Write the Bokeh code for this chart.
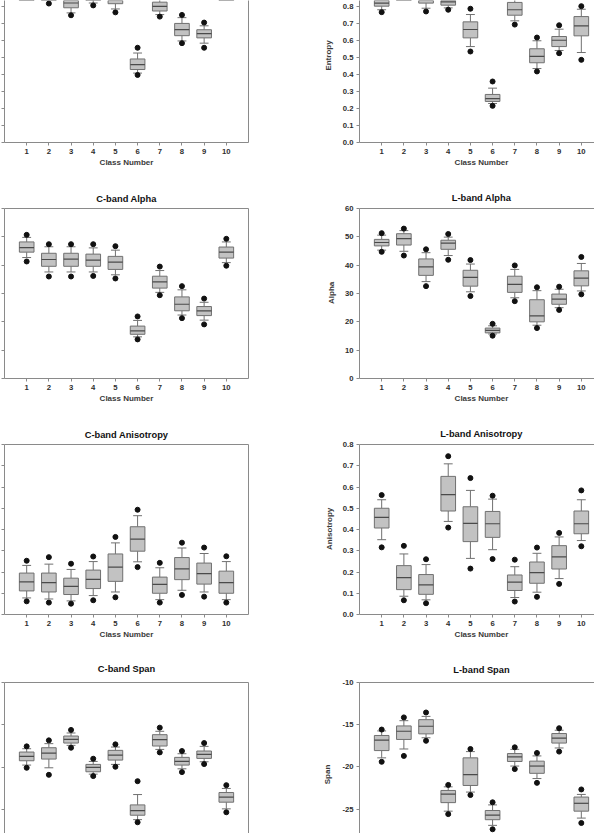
from bokeh.plotting import figure
from bokeh.models import (Range1d, FixedTicker, LinearAxis, Title, PrintfTickFormatter,
                          CustomJSTickFormatter, ColumnDataSource)
from bokeh.layouts import column, row
from bokeh.embed import file_html
from bokeh.resources import INLINE

CLASSES = [1, 2, 3, 4, 5, 6, 7, 8, 9, 10]
X_TICKS = [1, 2, 3, 4, 5, 6, 7, 8, 9, 10]

# ---- C-band Entropy ----
ce_dot_lo = [0.860, 0.817, 0.748, 0.806, 0.765, 0.397, 0.740, 0.584, 0.557, 0.860]
ce_wh_lo  = [0.870, 0.845, 0.762, 0.820, 0.785, 0.408, 0.752, 0.597, 0.584, 0.870]
ce_q1     = [0.885, 0.860, 0.792, 0.845, 0.816, 0.429, 0.773, 0.628, 0.615, 0.885]
ce_med    = [0.900, 0.875, 0.820, 0.860, 0.845, 0.458, 0.800, 0.663, 0.640, 0.900]
ce_q3     = [0.915, 0.890, 0.845, 0.875, 0.865, 0.491, 0.825, 0.700, 0.663, 0.920]
ce_wh_hi  = [0.930, 0.910, 0.870, 0.900, 0.885, 0.526, 0.850, 0.734, 0.686, 0.935]
ce_dot_hi = [0.945, 0.930, 0.890, 0.920, 0.905, 0.557, 0.870, 0.750, 0.705, 0.950]

# ---- L-band Entropy ----
le_dot_lo = [0.765, 0.860, 0.769, 0.779, 0.534, 0.215, 0.692, 0.417, 0.524, 0.485]
le_wh_lo  = [0.779, 0.870, 0.788, 0.790, 0.563, 0.229, 0.714, 0.434, 0.540, 0.528]
le_q1     = [0.800, 0.880, 0.818, 0.806, 0.614, 0.241, 0.747, 0.468, 0.563, 0.626]
le_med    = [0.818, 0.895, 0.840, 0.825, 0.663, 0.258, 0.779, 0.505, 0.600, 0.685]
le_q3     = [0.840, 0.910, 0.860, 0.845, 0.708, 0.282, 0.822, 0.550, 0.622, 0.739]
le_wh_hi  = [0.860, 0.925, 0.880, 0.865, 0.751, 0.319, 0.850, 0.597, 0.665, 0.782]
le_dot_hi = [0.880, 0.940, 0.900, 0.885, 0.785, 0.358, 0.870, 0.616, 0.688, 0.800]

# ---- C-band Alpha ----
ca_dot_lo = [41.3, 36.0, 36.0, 36.2, 35.3, 13.8, 29.4, 21.3, 19.1, 39.8]
ca_wh_lo  = [42.7, 37.6, 37.6, 37.6, 36.6, 14.7, 30.4, 22.4, 20.6, 40.9]
ca_q1     = [44.6, 39.6, 39.6, 39.6, 38.5, 15.6, 31.9, 23.9, 22.2, 42.5]
ca_med    = [46.2, 42.0, 42.1, 41.8, 41.1, 16.8, 34.1, 26.2, 23.9, 44.6]
ca_q3     = [48.2, 44.2, 44.2, 43.9, 43.1, 18.5, 36.1, 28.8, 25.4, 46.4]
ca_wh_hi  = [49.8, 46.5, 46.5, 46.1, 45.3, 20.5, 38.1, 31.3, 26.9, 48.2]
ca_dot_hi = [50.7, 47.4, 47.4, 47.4, 46.7, 21.9, 39.5, 32.6, 28.2, 49.3]

# ---- L-band Alpha ----
la_dot_lo = [44.7, 43.4, 32.6, 41.9, 29.1, 15.1, 27.3, 17.8, 24.2, 29.7]
la_wh_lo  = [45.3, 44.9, 34.2, 43.4, 30.6, 15.7, 28.5, 18.8, 25.0, 30.9]
la_q1     = [46.8, 47.1, 36.4, 45.6, 32.6, 16.1, 30.4, 20.0, 26.2, 32.7]
la_med    = [48.0, 49.4, 39.4, 47.8, 35.7, 17.0, 33.2, 22.1, 28.0, 35.4]
la_q3     = [49.1, 51.1, 42.2, 48.8, 38.2, 17.8, 36.1, 27.8, 29.8, 38.0]
la_wh_hi  = [50.6, 52.2, 44.4, 49.9, 40.4, 18.6, 38.5, 31.0, 31.5, 40.6]
la_dot_hi = [51.3, 52.9, 45.6, 51.0, 41.8, 19.3, 39.9, 32.2, 32.4, 42.9]

# ---- C-band Anisotropy ----
cn_dot_lo = [0.062, 0.056, 0.051, 0.067, 0.081, 0.223, 0.056, 0.092, 0.084, 0.056]
cn_wh_lo  = [0.078, 0.073, 0.064, 0.089, 0.106, 0.248, 0.070, 0.114, 0.106, 0.070]
cn_q1     = [0.111, 0.106, 0.094, 0.122, 0.156, 0.298, 0.100, 0.164, 0.143, 0.100]
cn_med    = [0.154, 0.150, 0.132, 0.165, 0.223, 0.355, 0.142, 0.215, 0.192, 0.150]
cn_q3     = [0.195, 0.195, 0.171, 0.209, 0.285, 0.413, 0.176, 0.268, 0.242, 0.204]
cn_wh_hi  = [0.231, 0.237, 0.212, 0.249, 0.337, 0.465, 0.220, 0.313, 0.287, 0.249]
cn_dot_hi = [0.253, 0.270, 0.239, 0.273, 0.365, 0.493, 0.243, 0.338, 0.315, 0.274]

# ---- L-band Anisotropy ----
ln_dot_lo = [0.316, 0.067, 0.053, 0.409, 0.216, 0.261, 0.061, 0.083, 0.144, 0.321]
ln_wh_lo  = [0.352, 0.086, 0.069, 0.438, 0.264, 0.305, 0.080, 0.105, 0.169, 0.348]
ln_q1     = [0.407, 0.117, 0.095, 0.487, 0.343, 0.363, 0.113, 0.147, 0.214, 0.380]
ln_med    = [0.457, 0.174, 0.139, 0.564, 0.429, 0.427, 0.152, 0.197, 0.271, 0.427]
ln_q3     = [0.500, 0.230, 0.188, 0.650, 0.507, 0.485, 0.186, 0.247, 0.324, 0.487]
ln_wh_hi  = [0.540, 0.285, 0.235, 0.709, 0.584, 0.543, 0.225, 0.288, 0.365, 0.540]
ln_dot_hi = [0.562, 0.323, 0.260, 0.745, 0.642, 0.559, 0.258, 0.315, 0.384, 0.584]

# ---- C-band Span ----
cs_dot_lo = [-20.07, -20.90, -17.70, -21.05, -19.95, -26.50, -18.25, -20.58, -19.63, -25.32]
cs_wh_lo  = [-19.75, -20.07, -17.42, -20.82, -19.67, -26.19, -17.90, -20.19, -19.36, -24.92]
cs_q1     = [-19.24, -19.04, -17.15, -20.54, -19.16, -25.67, -17.50, -19.75, -18.96, -24.13]
cs_med    = [-18.72, -18.33, -16.71, -20.03, -18.57, -25.12, -16.75, -19.32, -18.49, -23.54]
cs_q3     = [-18.21, -17.70, -16.32, -19.67, -18.01, -24.45, -16.16, -18.84, -18.09, -22.99]
cs_wh_hi  = [-17.82, -17.22, -15.96, -19.32, -17.62, -23.23, -15.76, -18.41, -17.54, -22.51]
cs_dot_hi = [-17.54, -16.83, -15.60, -19.00, -17.30, -21.65, -15.33, -18.09, -17.15, -22.12]

# ---- L-band Span ----
ls_dot_lo = [-19.39, -18.69, -16.90, -25.58, -23.32, -27.37, -20.25, -21.88, -18.18, -26.63]
ls_wh_lo  = [-18.92, -17.87, -16.54, -25.23, -22.97, -26.91, -19.89, -21.37, -17.75, -26.05]
ls_q1     = [-18.06, -16.74, -16.08, -24.22, -22.19, -26.24, -19.35, -20.75, -17.17, -25.23]
ls_med    = [-16.82, -15.77, -15.18, -23.21, -20.91, -25.70, -18.80, -19.89, -16.58, -24.30]
ls_q3     = [-16.27, -15.14, -14.40, -22.78, -18.92, -25.15, -18.41, -19.31, -16.04, -23.56]
ls_wh_hi  = [-15.73, -14.52, -14.01, -22.35, -18.18, -24.49, -17.91, -18.69, -15.65, -23.25]
ls_dot_hi = [-15.57, -14.13, -13.55, -22.12, -17.87, -24.18, -17.67, -18.34, -15.41, -22.66]

ENTROPY_TICKS = [0.0, 0.1, 0.2, 0.3, 0.4, 0.5, 0.6, 0.7, 0.8, 0.9, 1.0]
ALPHA_TICKS = [0, 10, 20, 30, 40, 50, 60]
ANISO_TICKS = [0.0, 0.1, 0.2, 0.3, 0.4, 0.5, 0.6, 0.7, 0.8]
SPAN_TICKS = [-10, -15, -20, -25, -30]

FONT = "Liberation Sans"
AXIS_C = "#8a8a8a"
TICK_LABEL_C = "#2e2e2e"
LABEL_C = "#3a3a3a"
BOX_FILL = "#c2c2c2"
BOX_LINE = "#707070"
MED_C = "#4a4a4a"
DOT_C = "#111111"
UNIT_X = 244 / 11.0
BOX_W = 0.66
CAP_W = 0.40

# Liberation Sans Bold advance widths (per 1000 em) used to centre titles over the
# full (uncropped) class range of the right-hand panels.
BOLD_W = {" ": 278, "-": 333, "A": 722, "C": 722, "E": 667, "L": 611, "N": 722,
          "S": 667, "a": 556, "b": 611, "c": 556, "d": 611, "e": 556, "h": 611,
          "i": 278, "l": 278, "m": 889, "n": 611, "o": 611, "p": 611, "r": 389,
          "s": 556, "t": 333, "u": 611, "y": 556}


def text_w(s, size):
    return sum(BOLD_W.get(ch, 556) for ch in s) / 1000.0 * size


def style_axis(ax):
    ax.axis_line_color = AXIS_C
    ax.axis_line_width = 1
    ax.major_tick_line_color = AXIS_C
    ax.major_tick_out = 3
    ax.major_tick_in = 0
    ax.minor_tick_out = 0
    ax.minor_tick_in = 0
    ax.major_label_text_font = FONT
    ax.major_label_text_font_style = "bold"
    ax.major_label_text_font_size = "7.7px"
    ax.major_label_text_color = TICK_LABEL_C
    ax.major_label_standoff = 3


def make_panel(stats, title, ylabel, yticks, fmt, col, frame_h, mb_top, mb_bottom,
               y_start, y_end, top_border, bottom_axis, title_standoff=None,
               ylabel_center=None, ylabel_standoff=12):
    dot_lo, wh_lo, q1, med, q3, wh_hi, dot_hi = stats
    if col == 0:
        mb_left, frame_w, mb_right = 4, 244, 49
    else:
        mb_left, frame_w, mb_right = 62, 235, 0
    x_end = frame_w / UNIT_X
    height = mb_top + frame_h + mb_bottom
    p = figure(width=297, height=height,
               x_range=Range1d(0, x_end), y_range=Range1d(y_start, y_end),
               output_backend="svg", toolbar_location=None, title=None,
               x_axis_location="below" if bottom_axis else None,
               y_axis_location="left",
               min_border_left=mb_left, min_border_right=mb_right,
               min_border_top=mb_top, min_border_bottom=mb_bottom,
               outline_line_color=None, background_fill_color="white",
               border_fill_color="white")
    p.grid.visible = False

    # grab the main axes before any border axes are added
    yax = p.left[0]
    xax = p.below[0] if bottom_axis else None

    src = ColumnDataSource(dict(
        x=CLASSES,
        cl=[c - CAP_W / 2 for c in CLASSES], cr=[c + CAP_W / 2 for c in CLASSES],
        bl=[c - BOX_W / 2 for c in CLASSES], br=[c + BOX_W / 2 for c in CLASSES],
        dot_lo=dot_lo, wh_lo=wh_lo, q1=q1, med=med, q3=q3, wh_hi=wh_hi, dot_hi=dot_hi))

    p.segment(x0="x", y0="wh_lo", x1="x", y1="q1", source=src, line_color=BOX_LINE, line_width=1)
    p.segment(x0="x", y0="q3", x1="x", y1="wh_hi", source=src, line_color=BOX_LINE, line_width=1)
    p.segment(x0="cl", y0="wh_lo", x1="cr", y1="wh_lo", source=src, line_color=BOX_LINE, line_width=1)
    p.segment(x0="cl", y0="wh_hi", x1="cr", y1="wh_hi", source=src, line_color=BOX_LINE, line_width=1)
    p.vbar(x="x", width=BOX_W, bottom="q1", top="q3", source=src,
           fill_color=BOX_FILL, line_color=BOX_LINE, line_width=1)
    p.segment(x0="bl", y0="med", x1="br", y1="med", source=src, line_color=MED_C, line_width=1.2)
    p.scatter(x="x", y="dot_lo", source=src, size=5, marker="circle",
              fill_color=DOT_C, line_color=DOT_C)
    p.scatter(x="x", y="dot_hi", source=src, size=5, marker="circle",
              fill_color=DOT_C, line_color=DOT_C)

    style_axis(yax)
    yax.ticker = FixedTicker(ticks=yticks)
    if col == 0:
        # tick labels of the left column lie outside the cropped picture
        yax.formatter = CustomJSTickFormatter(code="return ''")
        yax.major_label_standoff = 0
    else:
        yax.formatter = PrintfTickFormatter(format=fmt)

    center_px = 5.5 * UNIT_X

    if xax is not None:
        style_axis(xax)
        xax.ticker = FixedTicker(ticks=X_TICKS)
        lab = "Class Number"
        if col == 0:
            t = Title(text=lab, align="center")
        else:
            t = Title(text=lab, align="left", offset=center_px - text_w(lab, 8) / 2)
        t.vertical_align = "top"
        t.standoff = 2
        t.text_font = FONT
        t.text_font_style = "bold"
        t.text_font_size = "8px"
        t.text_color = LABEL_C
        p.add_layout(t, "below")

    def border(side):
        ax = LinearAxis(ticker=FixedTicker(ticks=[]), axis_line_color=AXIS_C,
                        major_tick_out=0, major_tick_in=0, minor_tick_out=0,
                        minor_tick_in=0, major_label_standoff=0,
                        formatter=CustomJSTickFormatter(code="return ''"))
        p.add_layout(ax, side)

    if top_border:
        border("above")
    if col == 0:
        border("right")

    if title_standoff is not None:
        if col == 0:
            t = Title(text=title, align="center")
        else:
            t = Title(text=title, align="left", offset=center_px - text_w(title, 9.3) / 2)
        t.standoff = title_standoff
        t.text_font = FONT
        t.text_font_style = "bold"
        t.text_font_size = "9.3px"
        t.text_color = "#111111"
        p.add_layout(t, "above")

    if col == 1 and ylabel_center is not None:
        from_bottom = frame_h - ylabel_center
        t = Title(text=ylabel, align="left", offset=from_bottom - text_w(ylabel, 8) / 2)
        t.standoff = ylabel_standoff
        t.text_font = FONT
        t.text_font_style = "bold"
        t.text_font_size = "8px"
        t.text_color = LABEL_C
        p.add_layout(t, "left")
    return p


p1 = make_panel((ce_dot_lo, ce_wh_lo, ce_q1, ce_med, ce_q3, ce_wh_hi, ce_dot_hi),
                "C-band Entropy", "Entropy", ENTROPY_TICKS, "%.1f", 0,
                144, 0, 34, 0.0, 144 / 172.5, False, True)
p2 = make_panel((le_dot_lo, le_wh_lo, le_q1, le_med, le_q3, le_wh_hi, le_dot_hi),
                "L-band Entropy", "Entropy", ENTROPY_TICKS, "%.1f", 1,
                142, 0, 36, 0.0, 142 / 170.4, False, True,
                ylabel_center=55, ylabel_standoff=14)
p3 = make_panel((ca_dot_lo, ca_wh_lo, ca_q1, ca_med, ca_q3, ca_wh_hi, ca_dot_hi),
                "C-band Alpha", "Alpha", ALPHA_TICKS, "%d", 0,
                170, 30, 32, 0, 60, True, True, title_standoff=10)
p4 = make_panel((la_dot_lo, la_wh_lo, la_q1, la_med, la_q3, la_wh_hi, la_dot_hi),
                "L-band Alpha", "Alpha", ALPHA_TICKS, "%d", 1,
                171, 30, 31, 0, 60, True, True, title_standoff=12,
                ylabel_center=85.3, ylabel_standoff=12)
p5 = make_panel((cn_dot_lo, cn_wh_lo, cn_q1, cn_med, cn_q3, cn_wh_hi, cn_dot_hi),
                "C-band Anisotropy", "Anisotropy", ANISO_TICKS, "%.1f", 0,
                171, 33, 36, 0.0, 0.8, True, True, title_standoff=10)
p6 = make_panel((ln_dot_lo, ln_wh_lo, ln_q1, ln_med, ln_q3, ln_wh_hi, ln_dot_hi),
                "L-band Anisotropy", "Anisotropy", ANISO_TICKS, "%.1f", 1,
                170, 34, 36, 0.0, 0.8, True, True, title_standoff=12,
                ylabel_center=84.3, ylabel_standoff=11)
p7 = make_panel((cs_dot_lo, cs_wh_lo, cs_q1, cs_med, cs_q3, cs_wh_hi, cs_dot_hi),
                "C-band Span", "Span", SPAN_TICKS, "%d", 0,
                151, 32, 0, -10 - 151 / 8.47, -10, True, False, title_standoff=17)
p8 = make_panel((ls_dot_lo, ls_wh_lo, ls_q1, ls_med, ls_q3, ls_wh_hi, ls_dot_hi),
                "L-band Span", "Span", SPAN_TICKS, "%d", 1,
                153, 30, 0, -10 - 153 / 8.56, -10, True, False, title_standoff=16,
                ylabel_center=94, ylabel_standoff=15)

layout = column(row(p1, p2), row(p3, p4), row(p5, p6), row(p7, p8))
open("out.html", "w").write(file_html(layout, INLINE))
